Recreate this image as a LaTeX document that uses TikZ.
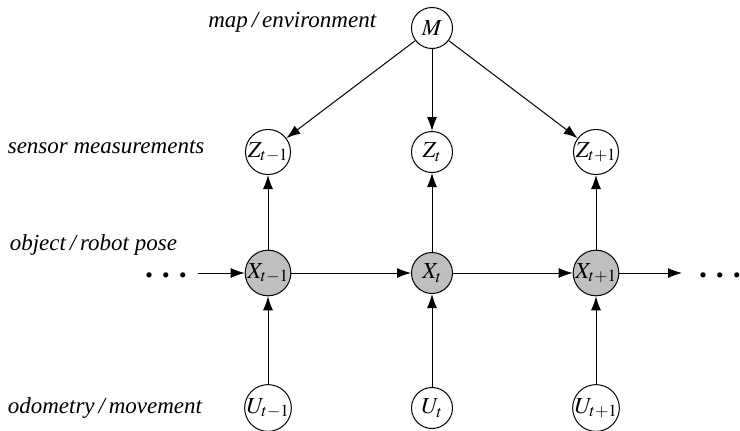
\documentclass[tikz,border=0pt]{standalone}
\usepackage{mathptmx}
\usepackage{fontspec}
\setmainfont{Liberation Serif}
\usetikzlibrary{arrows.meta, positioning}

\begin{document}
\begin{tikzpicture} [x=1pt, y=-1pt,
            node distance = 164pt,
            on grid,
            >={Latex[length=14pt,width=10pt]},
            line width=1pt]
            \tikzset{var/.style={circle, draw, minimum size=41pt, inner sep=0pt,
                        font=\fontsize{23}{25}\selectfont},
                     pose/.style={var, fill=black!25},
                     level/.style={font=\fontsize{23}{26}\selectfont\itshape},
                     dots/.style={inner sep=0pt, anchor=base,
                        font=\fontsize{32}{32}\selectfont\bfseries}}
            \useasboundingbox (0,0) rectangle (740,431);

            % map
            \node (m) [var] at (432,28) {$M$};

            % measurements
            \node (zt) [var, below=124pt of m] {$Z_{t}$};
            \node (zp) [var, left=of zt] {$Z_{t-1}$};
            \node (zn) [var, right=of zt] {$Z_{t+1}$};

            % poses
            \node (xt) [pose, below=121pt of zt] {$X_{t}$};
            \node (xp) [pose, left=of xt] {$X_{t-1}$};
            \node (xn) [pose, right=of xt] {$X_{t+1}$};

            % controls
            \node (ut) [var, below=135pt of xt] {$U_{t}$};
            \node (up) [var, left=of ut] {$U_{t-1}$};
            \node (un) [var, right=of ut] {$U_{t+1}$};

            % level labels
            \node (lm) [level, anchor=east] at (380,22) {map\,/\,environment};
            \node (lz) [level, anchor=west] at (4,147) {sensor measurements};
            \node (lx) [level, anchor=west] at (6,245) {object\,/\,robot pose};
            \node (lu) [level, anchor=west] at (4,408) {odometry\,/\,movement};

            % ends of the chain
            \coordinate (in) at (198,273);
            \coordinate (out) at (682,273);
            \node (dl) [dots] at (166,277) {.\hspace{9pt}.\hspace{9pt}.};
            \node (dr) [dots] at (720,277) {.\hspace{9pt}.\hspace{9pt}.};

            % Arrows
            \path [->]
                (m) edge (zp)
                (m) edge (zt)
                (m) edge (zn)

                (xp) edge (zp)
                (xt) edge (zt)
                (xn) edge (zn)

                (up) edge (xp)
                (ut) edge (xt)
                (un) edge (xn)

                (in) edge (xp)
                (xp) edge (xt)
                (xt) edge (xn)
                (xn) edge (out);
        \end{tikzpicture}
\end{document}
